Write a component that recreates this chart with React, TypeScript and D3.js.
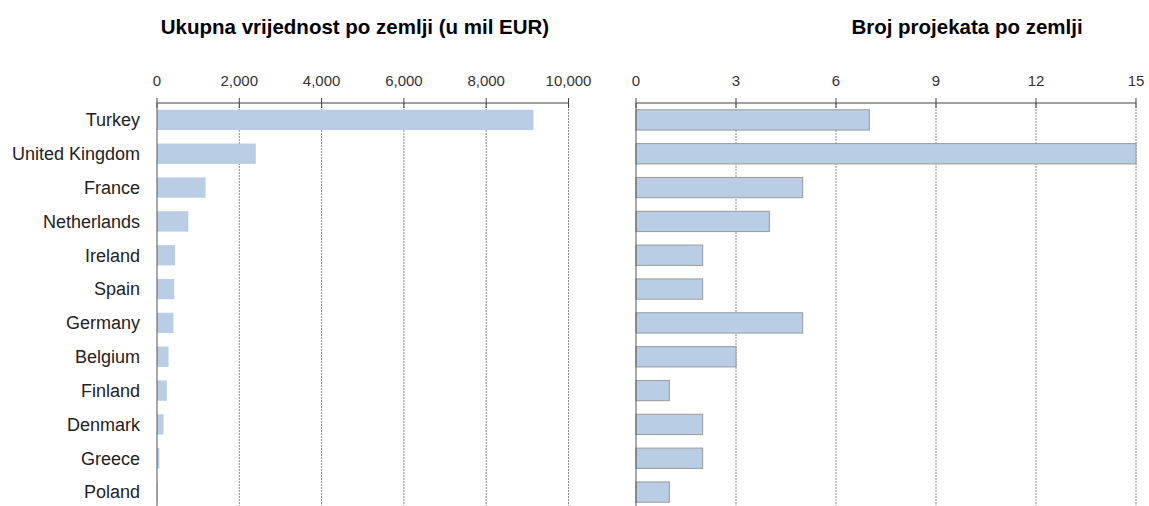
import React from "react";
import * as d3 from "d3";

const countries = [
  "Turkey", "United Kingdom", "France", "Netherlands", "Ireland", "Spain",
  "Germany", "Belgium", "Finland", "Denmark", "Greece", "Poland",
];
// ukupna vrijednost, mil EUR
const values = [9150, 2400, 1180, 760, 440, 420, 400, 280, 240, 160, 60, 20];
// broj projekata
const projects = [7, 15, 5, 4, 2, 2, 5, 3, 1, 2, 2, 1];

const valueTicks = [0, 2000, 4000, 6000, 8000, 10000];
const projectTicks = [0, 3, 6, 9, 12, 15];

const W = 1149;
const H = 506;
const top = 103;
const bottom = 509;
const barFill = "#b9cde5";
const font = "'Liberation Sans', Arial, sans-serif";

function Panel({ x0, x1, max, ticks, data, fmt, title, titleX, stroke }: any) {
  const x = d3.scaleLinear().domain([0, max]).range([x0, x1]);
  const y = d3.scaleBand().domain(countries).range([top, bottom]).paddingInner(0.4).paddingOuter(0.2);
  return (
    <g>
      <text x={titleX} y={34} textAnchor="middle" fontFamily={font} fontWeight="bold" fontSize={20.5} fill="#000">{title}</text>
      {ticks.map((t: number) => (
        <g key={t}>
          {t > 0 && <line x1={x(t)} x2={x(t)} y1={top} y2={bottom} stroke="#8a8a8a" strokeDasharray="2,1" />}
          <line x1={x(t)} x2={x(t)} y1={top - 5} y2={top + 5} stroke="#444" />
          <text x={x(t)} y={86} textAnchor="middle" fontFamily={font} fontSize={15} fill="#333">{fmt(t)}</text>
        </g>
      ))}
      {data.map((v: number, i: number) => (
        <rect key={i} x={x(0)} y={y(countries[i])} width={x(v) - x(0)} height={y.bandwidth()}
          fill={barFill} stroke={stroke} strokeWidth={stroke === "none" ? 0 : 1} />
      ))}
      <line x1={x0} x2={x1} y1={top} y2={top} stroke="#444" />
      <line x1={x0} x2={x0} y1={top} y2={bottom} stroke="#555" />
    </g>
  );
}

export default function App() {
  const y = d3.scaleBand().domain(countries).range([top, bottom]).paddingInner(0.4).paddingOuter(0.2);
  return (
    <svg width={W} height={H} style={{ position: "absolute", left: 0, top: 0, background: "#fff" }}>
      {countries.map((c) => (
        <text key={c} x={140} y={(y(c) as number) + y.bandwidth() / 2} dy="0.35em" textAnchor="end"
          fontFamily={font} fontSize={18} fill="#222">{c}</text>
      ))}
      <Panel x0={157} x1={568.5} max={10000} ticks={valueTicks} data={values} titleX={355}
        fmt={d3.format(",")} title="Ukupna vrijednost po zemlji (u mil EUR)" stroke="none" />
      <Panel x0={636} x1={1136} max={15} ticks={projectTicks} data={projects} titleX={967}
        fmt={(d: number) => String(d)} title="Broj projekata po zemlji" stroke="#9a9a9a" />
    </svg>
  );
}
